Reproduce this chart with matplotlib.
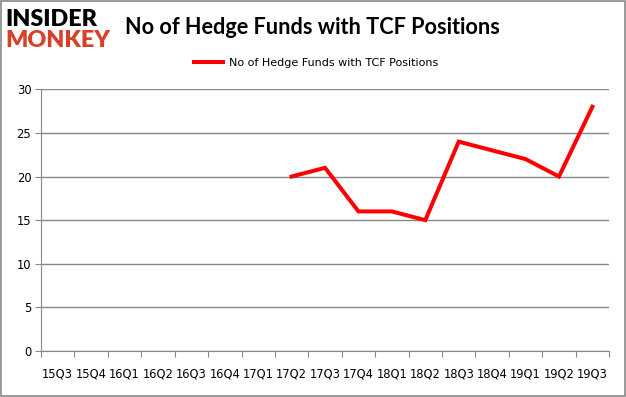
import numpy as np
from matplotlib import pyplot as plt

quarters = ['15Q3', '15Q4', '16Q1', '16Q2', '16Q3', '16Q4', '17Q1', '17Q2', '17Q3',
            '17Q4', '18Q1', '18Q2', '18Q3', '18Q4', '19Q1', '19Q2', '19Q3']
hedge_funds = [np.nan, np.nan, np.nan, np.nan, np.nan, np.nan, np.nan,
               20, 21, 16, 16, 15, 24, 23, 22, 20, 28]
y_ticks = [0, 5, 10, 15, 20, 25, 30]
series_name = 'No of Hedge Funds with TCF Positions'

fig = plt.figure(figsize=(6.26, 3.97), dpi=100)
ax = fig.add_axes([0.0655, 0.116, 0.9075, 0.659])

x = np.arange(len(quarters))
line, = ax.plot(x, hedge_funds, color='#ff0000', lw=2.9, solid_joinstyle='miter')

ax.set_xlim(-0.5, len(quarters) - 0.5)
ax.set_ylim(0, 30)
ax.set_yticks(y_ticks)
ax.yaxis.grid(True, color='#888888', lw=1)
ax.set_axisbelow(True)

# category labels centred, tick marks on category boundaries
ax.set_xticks(np.arange(len(quarters) + 1) - 0.5)
ax.set_xticklabels([])
ax.set_xticks(x, minor=True)
ax.set_xticklabels(quarters, minor=True)
ax.tick_params(axis='x', which='major', length=4, color='#888888', direction='out')
ax.tick_params(axis='x', which='minor', length=0, pad=12, labelsize=8.3)
ax.tick_params(axis='y', length=4, color='#888888', labelsize=8.3, pad=3)

for side in ['top', 'right']:
    ax.spines[side].set_visible(False)
ax.spines['left'].set_color('#888888')
ax.spines['bottom'].set_color('#888888')

fig.legend([line], [series_name], loc='center', bbox_to_anchor=(0.505, 0.841),
           frameon=False, fontsize=8, handlelength=2.6, handletextpad=0.5)

fig.text(0.2, 0.93, series_name, fontsize=15.6, fontweight='bold',
         family='Lato', va='center', ha='left')

# logo
fig.text(0.008, 0.952, 'INSIDER', fontsize=16.8, fontweight='heavy',
         family='Lato', color='black', va='center', ha='left')
fig.text(0.008, 0.897, 'MONKEY', fontsize=16.8, fontweight='heavy',
         family='Lato', color='#d9402a', va='center', ha='left')

# image border
fig.patches.append(plt.Rectangle((0.002, 0.003), 0.996, 0.994, transform=fig.transFigure,
                                 fill=False, edgecolor='#888888', lw=1.2))

fig.savefig('out.png', dpi=100)
